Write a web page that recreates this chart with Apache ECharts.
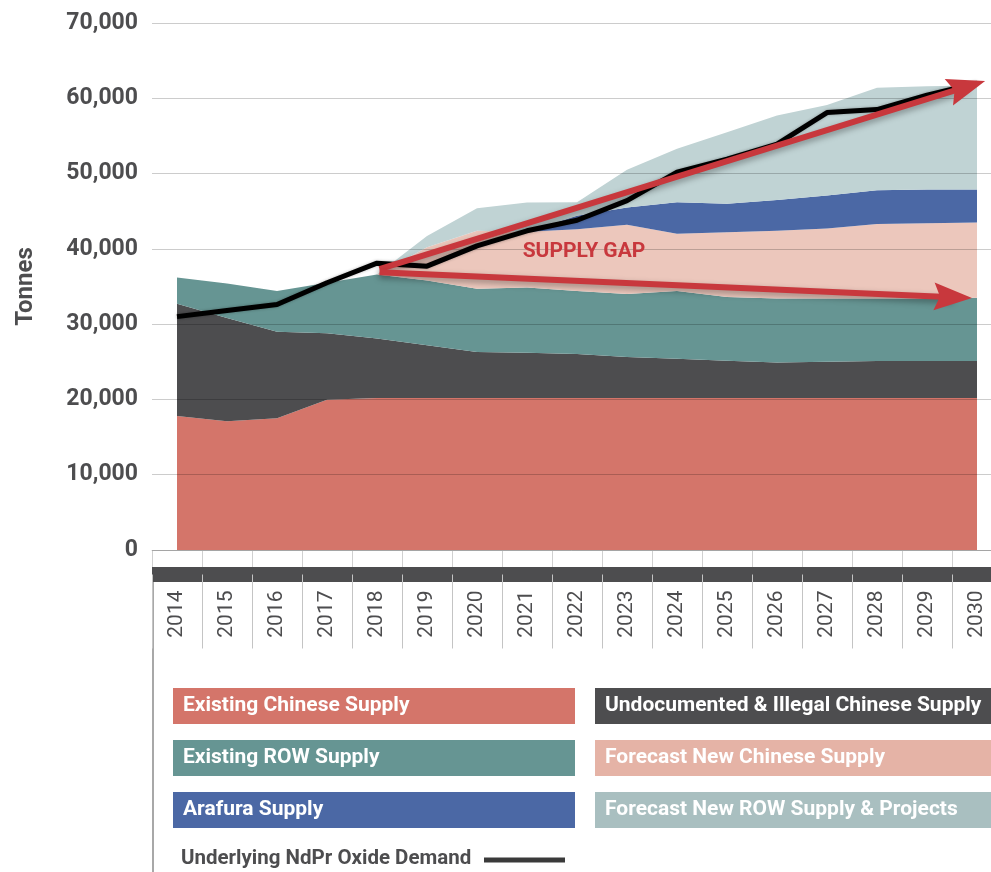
<!DOCTYPE html>
<html>
<head>
<meta charset="utf-8" />
<title>NdPr Oxide Supply Gap</title>
<script src="https://cdn.jsdelivr.net/npm/echarts@6/dist/echarts.min.js"></script>
<style>body{margin:0;background:#fff;}</style>
</head>
<body>
<div id="main" style="width:991px;height:872px;"></div>
<script type="text/javascript">
// data (tonnes, stacked increments)
var years = ['2014','2015','2016','2017','2018','2019','2020','2021','2022','2023','2024','2025','2026','2027','2028','2029','2030'];
var existingChinese = [17800,17100,17500,19950,20200,20200,20200,20200,20200,20200,20200,20200,20200,20200,20200,20200,20200];
var undocumentedChinese = [14900,13700,11500,8850,7900,7000,6100,6000,5850,5450,5200,4950,4700,4800,4900,4900,4900];
var existingRow = [3500,4600,5400,6700,8500,8600,8400,8660,8350,8350,9000,8450,8500,8400,8300,8300,8400];
var forecastChinese = [0,0,0,0,0,4400,7700,7400,8200,9200,7600,8600,9000,9300,9900,10000,10000];
var arafura = [0,0,0,0,0,0,0,0,1800,2300,4200,3800,4100,4400,4500,4500,4400];
var forecastRow = [0,0,0,0,0,1500,3000,3900,1800,5000,7100,9500,11200,12000,13600,13700,13800];
var demand = [31000,31800,32600,35500,38100,37700,40400,42400,43800,46400,50200,51900,53900,58100,58500,60400,62000];

// supply gap arrows: [year index, tonnes] for start and end (on a hidden value x axis)
var gapUpper = [[4.05, 37300], [15.8, 61550]];
var gapLower = [[4.05, 36900], [15.52, 33580]];
var gapLabelAt = [8.14, 39600];

var supplyNames = ['Existing Chinese Supply','Undocumented & Illegal Chinese Supply','Existing ROW Supply','Forecast New Chinese Supply','Arafura Supply','Forecast New ROW Supply & Projects'];
var supplyData = [existingChinese, undocumentedChinese, existingRow, forecastChinese, arafura, forecastRow];
var areaColors = ['#d4756a','#4d4d4f','#669593','#ecc7bc','#4b68a5','#c0d3d4'];
var boxColors = ['#d4756a','#4d4d4f','#669593','#e5b3a6','#4b68a5','#a9bfc0'];

var font = 'Roboto, sans-serif';
var arrowHead = 'path://M0,0 L14,38 L0,32 L-14,38 Z';
var myChart = echarts.init(document.getElementById('main'));

var series = supplyData.map(function (d, i) {
  return {
    name: supplyNames[i],
    type: 'line',
    stack: 'supply',
    data: d,
    symbol: 'none',
    lineStyle: { width: 0 },
    areaStyle: { color: areaColors[i], opacity: 1 },
    z: 2,
    silent: true
  };
});

function arrowEnds(pair) {
  return [
    { coord: pair[0], symbol: 'none' },
    { coord: pair[1], symbol: arrowHead, symbolSize: [28, 38] }
  ];
}

// red supply-gap arrows and label
series.push({
  name: 'gap',
  type: 'line',
  xAxisIndex: 2,
  data: [],
  symbol: 'none',
  z: 3,
  silent: true,
  markLine: {
    silent: true,
    symbol: ['none', arrowHead],
    symbolSize: 38,
    label: { show: false },
    lineStyle: {
      color: '#c8383d', width: 6, type: 'solid', cap: 'butt',
      shadowBlur: 6, shadowColor: 'rgba(0,0,0,0.35)', shadowOffsetY: 3
    },
    data: [arrowEnds(gapUpper), arrowEnds(gapLower)]
  },
  markPoint: {
    silent: true,
    symbol: 'circle',
    symbolSize: 1,
    itemStyle: { color: 'rgba(0,0,0,0)' },
    label: {
      show: true, position: 'inside',
      formatter: 'SUPPLY GAP',
      color: '#c8383d', fontFamily: font, fontWeight: 'bold', fontSize: 21
    },
    data: [{ coord: gapLabelAt }]
  }
});

series.push({
  name: 'Underlying NdPr Oxide Demand',
  type: 'line',
  data: demand,
  symbol: 'none',
  lineStyle: { color: '#000', width: 5, shadowBlur: 3, shadowColor: 'rgba(0,0,0,0.3)' },
  z: 4,
  silent: true
});

// legend boxes drawn as graphics
var graphics = [];
supplyNames.forEach(function (name, k) {
  var col = k % 2, row = Math.floor(k / 2);
  graphics.push({
    type: 'group',
    left: col === 0 ? 173 : 595,
    top: 688 + row * 52,
    children: [
      { type: 'rect', shape: { x: 0, y: 0, width: col === 0 ? 402 : 400, height: 36 }, style: { fill: boxColors[k] } },
      { type: 'text', x: 10, y: 18, style: { text: name, fill: '#fff', font: 'bold 21px ' + font, verticalAlign: 'middle' } }
    ]
  });
});
graphics.push({ type: 'text', left: 181, top: 848, style: { text: 'Underlying NdPr Oxide Demand', fill: '#4d4d4f', font: 'bold 20.5px ' + font } });
graphics.push({ type: 'line', shape: { x1: 484, y1: 860, x2: 565, y2: 860 }, style: { stroke: '#3a3a3a', lineWidth: 5 } });
graphics.push({ type: 'line', shape: { x1: 153, y1: 567, x2: 153, y2: 872 }, style: { stroke: '#a8a8a8', lineWidth: 2 } });

myChart.setOption({
  animation: false,
  grid: { left: 152, top: 23, width: 850, bottom: 322, outerBoundsMode: 'none', containLabel: false },
  xAxis: [
    {
      type: 'category', data: years, boundaryGap: true,
      axisLine: { lineStyle: { color: '#cfcfcf', width: 1 } },
      axisTick: { show: true, length: 17, lineStyle: { color: '#d0d0d0' } },
      axisLabel: { show: false }
    },
    {
      type: 'category', data: years, boundaryGap: true, position: 'bottom', offset: 24.5,
      axisLine: { lineStyle: { color: '#4d4d4f', width: 15, cap: 'butt' } },
      axisTick: { show: true, length: 74, lineStyle: { color: '#c4c4c4' } },
      axisLabel: { rotate: 90, margin: 16, color: '#4d4d4f', fontSize: 21, fontFamily: font }
    },
    {
      // hidden index axis so the annotation arrows can sit between years
      type: 'value', min: -0.5, max: years.length - 0.5, show: false
    }
  ],
  yAxis: {
    type: 'value', min: 0, max: 70000, interval: 10000, z: 5,
    name: 'Tonnes', nameLocation: 'middle', nameGap: 114,
    nameTextStyle: { color: '#4d4d4f', fontFamily: font, fontWeight: 'bold', fontSize: 24 },
    axisLine: { show: false }, axisTick: { show: false },
    axisLabel: {
      margin: 14, color: '#4d4d4f', fontFamily: font, fontWeight: 'bold', fontSize: 23,
      formatter: function (v) { return v.toLocaleString('en-US'); }
    },
    splitLine: { lineStyle: { color: 'rgba(0,0,0,0.2)', width: 1 } }
  },
  graphic: graphics,
  series: series
});
</script>
</body>
</html>
